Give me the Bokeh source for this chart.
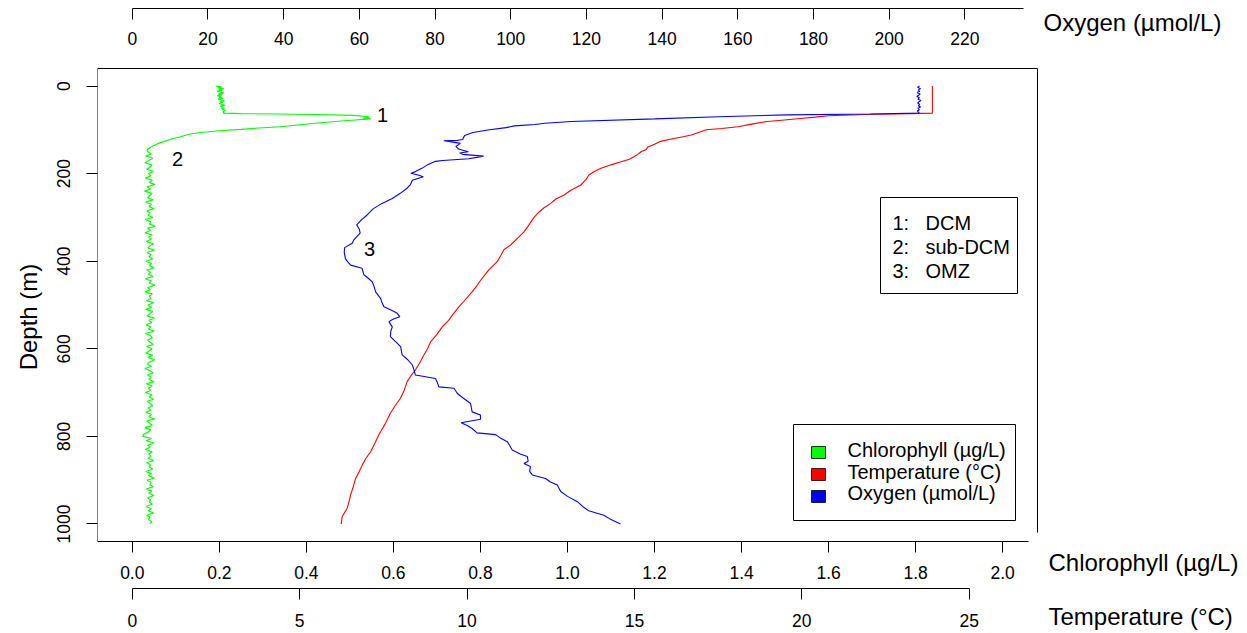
from bokeh.plotting import figure
from bokeh.models import Range1d, LinearAxis, FixedTicker, PrintfTickFormatter
from bokeh.core.properties import value
from bokeh.embed import file_html
from bokeh.resources import INLINE

# ------------------------------------------------------------------ data
chl_depth = [0, 2, 4, 6, 8, 10, 12, 14, 16, 18, 20, 22, 24, 26, 28, 30,
             32, 34, 36, 38, 40, 42, 44, 46, 48, 50, 52, 54, 56, 58, 60, 62,
             63, 65, 67, 69, 71, 73, 75, 77, 80, 85, 89, 93, 96, 99, 102, 106,
             110, 116, 121, 127, 131, 136, 141, 146,
             150, 155, 160, 165, 170, 175, 180, 185, 190, 195,
             200, 205, 210, 215, 220, 225, 230, 235, 240, 245,
             250, 255, 260, 265, 270, 275, 280, 285, 290, 295,
             300, 305, 310, 315, 320, 325, 330, 335, 340, 345,
             350, 355, 360, 365, 370, 375, 380, 385, 390, 395,
             400, 405, 410, 415, 420, 425, 430, 435, 440, 445,
             450, 455, 460, 465, 470, 475, 480, 485, 490, 495,
             500, 505, 510, 515, 520, 525, 530, 535, 540, 545,
             550, 555, 560, 565, 570, 575, 580, 585, 590, 595,
             600, 605, 610, 615, 620, 625, 630, 635, 640, 645,
             650, 655, 660, 665, 670, 675, 680, 685, 690, 695,
             700, 705, 710, 715, 720, 725, 730, 735, 740, 745,
             750, 755, 760, 765, 770, 775, 780, 785, 790, 795,
             800, 805, 810, 815, 820, 825, 830, 835, 840, 845,
             850, 855, 860, 865, 870, 875, 880, 885, 890, 895,
             900, 905, 910, 915, 920, 925, 930, 935, 940, 945,
             950, 955, 960, 965, 970, 975, 980, 985, 990, 995,
             1000]
chl_value = [0.192, 0.205, 0.196, 0.210, 0.199, 0.207, 0.194, 0.203, 0.211, 0.198,
             0.206, 0.195, 0.204, 0.200, 0.209, 0.197, 0.205, 0.212, 0.201, 0.208,
             0.199, 0.207, 0.213, 0.202, 0.210, 0.204, 0.212, 0.206, 0.214, 0.208,
             0.211, 0.209,
             0.25, 0.42, 0.51, 0.53, 0.545, 0.53, 0.548, 0.52, 0.48, 0.42, 0.38, 0.34,
             0.29, 0.25, 0.20, 0.157, 0.13, 0.111, 0.09, 0.072, 0.06, 0.049, 0.04, 0.034,
             0.036, 0.044, 0.031, 0.047, 0.038, 0.029, 0.045, 0.041, 0.033, 0.049,
             0.037, 0.043, 0.030, 0.046, 0.039, 0.052, 0.034, 0.042, 0.028, 0.045,
             0.040, 0.035, 0.048, 0.031, 0.044, 0.038, 0.050, 0.033, 0.041, 0.036,
             0.047, 0.030, 0.043, 0.039, 0.053, 0.035, 0.042, 0.029, 0.046, 0.037,
             0.044, 0.032, 0.049, 0.040, 0.036, 0.051, 0.034, 0.043, 0.038, 0.047,
             0.031, 0.045, 0.039, 0.050, 0.033, 0.042, 0.037, 0.048, 0.030, 0.044,
             0.038, 0.052, 0.035, 0.041, 0.029, 0.046, 0.039, 0.043, 0.033, 0.049,
             0.036, 0.044, 0.031, 0.047, 0.040, 0.034, 0.051, 0.038, 0.045, 0.032,
             0.043, 0.037, 0.050, 0.030, 0.042, 0.046, 0.035, 0.041, 0.048, 0.033,
             0.045, 0.039, 0.031, 0.047, 0.036, 0.052, 0.040, 0.034, 0.044, 0.029,
             0.041, 0.048, 0.035, 0.043, 0.038, 0.050, 0.032, 0.046, 0.037, 0.042,
             0.030, 0.045, 0.039, 0.049, 0.034, 0.041, 0.047, 0.036, 0.043, 0.031,
             0.044, 0.038, 0.051, 0.033, 0.040, 0.046, 0.029, 0.042, 0.037, 0.026,
             0.024, 0.044, 0.032, 0.050, 0.035, 0.041, 0.030, 0.046, 0.038, 0.043,
             0.036, 0.049, 0.033, 0.042, 0.039, 0.047, 0.031, 0.044, 0.037, 0.051,
             0.034, 0.043, 0.040, 0.048, 0.032, 0.045, 0.038, 0.050, 0.035, 0.042,
             0.039, 0.046, 0.031, 0.044, 0.036, 0.049, 0.033, 0.041, 0.037, 0.045,
             0.040]

temp_depth = [0, 62, 63, 65, 68, 71, 74, 78, 81, 87,
              93, 97, 100, 104, 108, 112, 116, 121, 127, 133,
              139, 145, 150, 156, 161, 167, 173, 180, 188, 195,
              203, 214, 226, 238, 249, 258, 268, 278, 287, 300,
              317, 333, 352, 363, 374, 388, 401, 420, 439, 455,
              470, 492, 505, 519, 535, 550, 567, 584, 600, 614,
              630, 648, 662, 675, 695, 713, 730, 747, 772, 797,
              815, 835, 850, 865, 880, 896, 915, 934, 950, 964,
              983, 1000]
temp_value = [23.90, 23.90, 23.2, 21.9, 20.8, 20.4, 19.95, 19.4, 18.97, 18.5,
              18.1, 17.6, 17.15, 17.0, 16.85, 16.7, 16.45, 16.1, 15.75, 15.6,
              15.4, 15.35, 15.2, 15.1, 15.0, 14.85, 14.6, 14.3, 14.0, 13.8,
              13.64, 13.55, 13.4, 13.1, 12.9, 12.65, 12.5, 12.3, 12.16, 12.0,
              11.85, 11.7, 11.45, 11.3, 11.1, 11.0, 10.9, 10.65, 10.45, 10.3,
              10.15, 9.9, 9.75, 9.6, 9.45, 9.26, 9.1, 8.91, 8.82, 8.71,
              8.6, 8.46, 8.32, 8.21, 8.12, 8.01, 7.85, 7.71, 7.55, 7.36,
              7.25, 7.12, 6.98, 6.87, 6.78, 6.67, 6.6, 6.52, 6.47, 6.42,
              6.27, 6.24]

oxy_depth = [0, 3, 6, 9, 12, 15, 18, 21, 24, 27,
             30, 33, 36, 39, 42, 45, 48, 51, 54, 57,
             60, 62, 64, 66, 70, 75, 81, 85, 88, 91,
             95, 100, 106, 113, 122, 124, 125, 127, 131, 138,
             144, 150, 153, 156, 160, 163, 166, 170, 172, 180,
             188, 196, 199, 203, 207, 215, 225, 234, 245, 257,
             268, 280, 295, 305, 317, 327, 336, 345, 352, 359,
             369, 380, 394, 402, 409, 416, 431, 440, 447, 458,
             470, 485, 495, 504, 512, 519, 527, 532, 538, 550,
             560, 572, 583, 595, 614, 625, 637, 650, 660, 664,
             668, 677, 687, 690, 702, 713, 725, 735, 744, 751,
             761, 769, 775, 782, 792, 796, 805, 812, 822, 831,
             840, 846, 857, 862, 869, 880, 888, 896, 904, 911,
             926, 937, 949, 960, 970, 980, 990, 1000]
oxy_value = [208.0, 207.5, 208.3, 207.7, 208.1, 207.4, 208.2, 207.8, 207.3, 208.0,
             207.6, 208.4, 207.9, 207.5, 208.1, 207.7, 208.3, 207.6, 208.0, 207.4,
             207.9, 207.8, 195.0, 173.0, 155.0, 138.0, 116.0, 109.0, 106.4, 101.0,
             98.8, 94.4, 90.0, 87.8, 87.3, 86.0, 82.3, 84.0, 86.7, 85.5,
             86.2, 88.8, 86.5, 87.3, 92.8, 91.0, 88.9, 82.0, 80.1, 78.0,
             76.5, 74.7, 73.6, 75.5, 76.9, 74.0, 73.5, 72.5, 70.8, 68.7,
             66.0, 63.7, 62.0, 60.6, 59.3, 60.0, 60.2, 59.2, 58.5, 58.1,
             56.1, 56.0, 56.3, 57.0, 57.7, 60.7, 61.2, 62.5, 63.4, 63.9,
             64.3, 65.6, 66.0, 66.5, 68.5, 70.0, 70.7, 69.0, 67.8, 68.7,
             68.3, 68.2, 69.5, 70.9, 71.3, 72.8, 74.0, 74.5, 74.8, 77.5,
             80.1, 80.6, 81.0, 85.0, 85.9, 87.5, 89.4, 89.6, 89.8, 92.0,
             92.0, 86.9, 88.5, 89.8, 91.1, 96.0, 97.5, 99.1, 99.8, 100.4,
             102.5, 104.4, 104.6, 103.5, 105.2, 105.0, 105.7, 109.2, 110.5, 112.3,
             113.2, 115.0, 117.6, 119.0, 120.6, 124.6, 126.5, 129.0]

oxy_ticks = [0, 20, 40, 60, 80, 100, 120, 140, 160, 180, 200, 220]
chl_ticks = [0.0, 0.2, 0.4, 0.6, 0.8, 1.0, 1.2, 1.4, 1.6, 1.8, 2.0]
temp_ticks = [0, 5, 10, 15, 20, 25]
depth_ticks = [0, 200, 400, 600, 800, 1000]

series_names = ["Chlorophyll (\u00b5g/L)", "Temperature (\u00b0C)", "Oxygen (\u00b5mol/L)"]
series_colors = ["#00FF00", "#FF0000", "#0000FF"]
zone_keys = ["1:", "2:", "3:"]
zone_names = ["DCM", "sub-DCM", "OMZ"]
marker_labels = ["1", "2", "3"]

# axis limits (R style, expanded by 4 %)
chl_lim = (0.0, 2.0)
temp_lim = (0.0, 26.0)
oxy_lim = (0.0, 230.0)
depth_lim = (0.0, 1000.0)

# ------------------------------------------------------------------ layout
W, H = 1247, 633
BOX_L, BOX_R, BOX_T, BOX_B = 97, 1037, 68, 541
FONT = "Liberation Sans"


def expand(lim):
    d = (lim[1] - lim[0]) * 0.04
    return lim[0] - d, lim[1] + d


def x_range_for(lim):
    lo, hi = expand(lim)
    k = (BOX_R - BOX_L) / (hi - lo)
    return lo, hi + (W - BOX_R) / k, k


chl_s, chl_e, k_chl = x_range_for(chl_lim)
tmp_s, tmp_e, k_tmp = x_range_for(temp_lim)
oxy_s, oxy_e, k_oxy = x_range_for(oxy_lim)

d_lo, d_hi = expand(depth_lim)
k_y = (BOX_B - BOX_T) / (d_hi - d_lo)
d_top = d_lo - BOX_T / k_y
d_bot = d_hi + (H - BOX_B) / k_y


def xc(px):  # canvas px -> chlorophyll units
    return chl_s + (px - BOX_L) / k_chl


def xo(px):  # canvas px -> oxygen units
    return oxy_s + (px - BOX_L) / k_oxy


def yd(py):  # canvas px -> depth units
    return d_top + py / k_y


p = figure(width=W, height=H, output_backend="svg", toolbar_location=None,
           x_range=Range1d(chl_s, chl_e), y_range=Range1d(d_bot, d_top),
           x_axis_location=None, y_axis_location="left")
p.extra_x_ranges = {"temp": Range1d(tmp_s, tmp_e), "oxy": Range1d(oxy_s, oxy_e)}
p.min_border_left = BOX_L
p.min_border_right = 0
p.min_border_top = 0
p.min_border_bottom = 0
p.outline_line_color = None
p.grid.visible = False
p.background_fill_color = "white"
p.border_fill_color = "white"


def style_axis(ax, ticks, standoff):
    ax.ticker = FixedTicker(ticks=ticks)
    ax.major_tick_out = 11
    ax.major_tick_in = 0
    ax.minor_tick_line_color = None
    ax.major_tick_line_color = "black"
    ax.axis_line_color = "black"
    ax.major_label_text_font = FONT
    ax.major_label_text_font_size = "17.5px"
    ax.major_label_text_color = "black"
    ax.major_label_standoff = standoff


# left depth axis
yax = p.yaxis[0]
style_axis(yax, depth_ticks, 16)
yax.axis_line_color = None
yax.major_label_orientation = "vertical"
yax.axis_label = "Depth (m)"
yax.axis_label_text_font = FONT
yax.axis_label_text_font_size = "24px"
yax.axis_label_text_font_style = "normal"
yax.axis_label_text_color = "black"
yax.axis_label_standoff = 13

# bottom chlorophyll axis (forms the bottom of the box)
chl_ax = LinearAxis(fixed_location=d_hi, bounds=(chl_s, xc(1028)))
style_axis(chl_ax, chl_ticks, 13)
chl_ax.formatter = PrintfTickFormatter(format="%.1f")
p.add_layout(chl_ax, "below")

# temperature axis below it
tmp_ax = LinearAxis(x_range_name="temp", fixed_location=yd(588), bounds=(temp_lim[0], 25))
style_axis(tmp_ax, temp_ticks, 14)
p.add_layout(tmp_ax, "below")

# oxygen axis at the top
oxy_ax = LinearAxis(x_range_name="oxy", fixed_location=yd(8), bounds=(oxy_lim[0], xo(1023)))
style_axis(oxy_ax, oxy_ticks, 12)
p.add_layout(oxy_ax, "below")

# plot box (top, left, right)
box_x0, box_x1 = expand(chl_lim)
p.line([box_x0, box_x1], [d_lo, d_lo], line_color="black", line_width=1)
p.line([box_x0, box_x0], [d_lo, d_hi], line_color="black", line_width=1)
p.line([box_x1, box_x1], [d_lo, yd(532)], line_color="black", line_width=1)

# profiles
p.line(chl_value, chl_depth, line_color=series_colors[0], line_width=1.1)
p.line(temp_value, temp_depth, x_range_name="temp", line_color=series_colors[1], line_width=1.1)
p.line(oxy_value, oxy_depth, x_range_name="oxy", line_color=series_colors[2], line_width=1.1)

# numbered markers
p.text(x=[xc(382), xc(177), xc(369)], y=[yd(114), yd(158), yd(248)], text=marker_labels,
       text_font=value(FONT), text_font_size=value("20px"), text_color="black",
       text_align="center", text_baseline="middle")

# axis titles to the right
p.text(x=[xc(1043), xc(1048), xc(1048)], y=[yd(22), yd(562), yd(616)],
       text=[series_names[2], series_names[0], series_names[1]],
       text_font=value(FONT), text_font_size=value("24px"), text_color="black",
       text_align="left", text_baseline="middle")

# legend of zones
p.quad(left=[xc(880)], right=[xc(1017)], top=[yd(197)], bottom=[yd(293)],
       fill_color="white", line_color="black", line_width=1)
zone_rows = [yd(222), yd(246), yd(270)]
p.text(x=[xc(892)] * 3, y=zone_rows, text=zone_keys,
       text_font=value(FONT), text_font_size=value("20px"), text_color="black",
       text_align="left", text_baseline="middle")
p.text(x=[xc(925)] * 3, y=zone_rows, text=zone_names,
       text_font=value(FONT), text_font_size=value("20px"), text_color="black",
       text_align="left", text_baseline="middle")

# legend of series
p.quad(left=[xc(793)], right=[xc(1015)], top=[yd(424)], bottom=[yd(520)],
       fill_color="white", line_color="black", line_width=1)
sq_rows = [452, 474, 496]
p.quad(left=[xc(811)] * 3, right=[xc(825)] * 3,
       top=[yd(r - 6) for r in sq_rows], bottom=[yd(r + 6) for r in sq_rows],
       fill_color=series_colors, line_color="black", line_width=0.8)
p.text(x=[xc(847)] * 3, y=[yd(449), yd(471), yd(492)], text=series_names,
       text_font=value(FONT), text_font_size=value("20px"), text_color="black",
       text_align="left", text_baseline="middle")

open("out.html", "w").write(file_html(p, INLINE))
